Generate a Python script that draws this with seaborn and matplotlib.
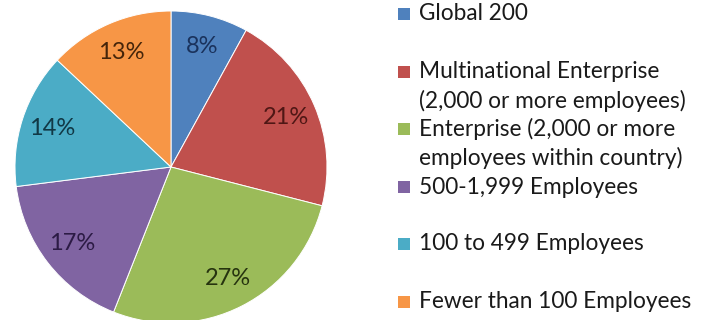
import matplotlib
matplotlib.use("Agg")
import matplotlib.pyplot as plt
from matplotlib.patches import Rectangle
import numpy as np
import seaborn as sns

categories = ["Global 200",
              "Multinational Enterprise\n(2,000 or more employees)",
              "Enterprise (2,000 or more\nemployees within country)",
              "500-1,999 Employees",
              "100 to 499 Employees",
              "Fewer than 100 Employees"]
shares = [8, 21, 27, 17, 14, 13]
pct_labels = ["8%", "21%", "27%", "17%", "14%", "13%"]

slice_colors = ["#4F81BD", "#C0504D", "#9BBB59", "#8064A2", "#4BACC6", "#F79646"]
label_colors = ["#1A325C", "#4F1715", "#26330F", "#2C1B45", "#113845", "#45250A"]

sns.set_theme(style="white")
plt.rcParams["font.family"] = ["Lato", "DejaVu Sans"]
palette = sns.color_palette(slice_colors)

W, H = 718, 320
fig = plt.figure(figsize=(W / 100, H / 100), dpi=100)
fig.patch.set_facecolor("white")

# pie axes: centre (171,167) px, radius 156 px
cx, cy, r = 171, 167, 156
ax = fig.add_axes([(cx - r) / W, (H - cy - r) / H, 2 * r / W, 2 * r / H])
wedges, _ = ax.pie(shares, colors=palette, startangle=90, counterclock=False,
                   radius=1.0, wedgeprops=dict(edgecolor="white", linewidth=0.7))
ax.set_xlim(-1, 1)
ax.set_ylim(-1, 1)
ax.set_aspect("auto")
ax.axis("off")

for w, lab, lc in zip(wedges, pct_labels, label_colors):
    mid = np.deg2rad((w.theta1 + w.theta2) / 2)
    ax.text(0.8 * np.cos(mid), 0.8 * np.sin(mid), lab, ha="center", va="center",
            fontsize=17, color=lc)

# legend
row_y = [14, 72, 129, 187, 244, 302]
line_gap = 29
for lab, col, y in zip(categories, slice_colors, row_y):
    fig.patches.append(Rectangle((398 / W, (H - y - 6) / H), 12 / W, 12 / H,
                                 transform=fig.transFigure, facecolor=col,
                                 edgecolor="none"))
    for i, line in enumerate(lab.split("\n")):
        fig.text(419 / W, (H - y - i * line_gap) / H, line, ha="left", va="center",
                 fontsize=16.3, color="#1a1a1a")

fig.savefig("out.png", dpi=100)
